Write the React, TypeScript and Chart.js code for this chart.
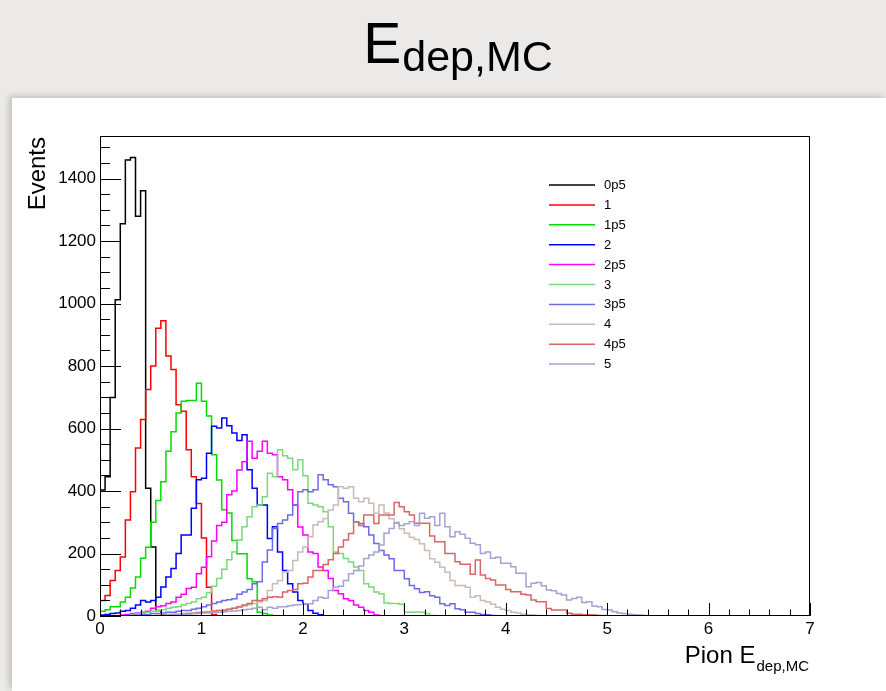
import React, { useEffect, useRef } from 'react';
import { Chart, registerables } from 'chart.js';

Chart.register(...registerables);

// ---- data (events per 0.05 bin, starting at E = 0) ----
const BIN_WIDTH = 0.05;
const N_BINS = 140;
const X_MIN = 0;
const X_MAX = 7;
const Y_MAX = 1536;
const xTickLabels = [0, 1, 2, 3, 4, 5, 6, 7];
const yTickStep = 200;

const seriesNames = ['0p5', '1', '1p5', '2', '2p5', '3', '3p5', '4', '4p5', '5'];
const seriesColors = ['#000000', '#ff0000', '#00dd00', '#0000ff', '#ff00ff', '#7ad97a', '#6b6bea', '#c9bcb4', '#d96666', '#a3a3d3'];

const h0p5 = [403, 446, 699, 1012, 1255, 1459, 1467, 1279, 1361, 409, 221, 18, 3, 1];
const h1 = [50, 66, 114, 146, 189, 307, 398, 538, 629, 725, 800, 921, 945, 832, 789, 676, 655, 532, 446, 360, 250, 92, 5];
const h1p5 = [15, 20, 30, 30, 45, 60, 90, 125, 185, 220, 300, 370, 430, 527, 590, 650, 687, 690, 690, 745, 687, 640, 516, 435, 340, 330, 242, 199, 199, 119, 110, 12, 8, 3];
const h2 = [3, 5, 8, 10, 15, 18, 25, 35, 50, 45, 50, 60, 93, 125, 152, 200, 259, 259, 345, 436, 441, 521, 607, 602, 634, 609, 586, 562, 580, 468, 409, 355, 355, 248, 286, 205, 146, 103, 77, 50, 39, 18, 9, 4];
const h2p5 = [0, 0, 0, 0, 3, 5, 8, 10, 12, 15, 25, 30, 33, 40, 45, 60, 70, 88, 92, 135, 156, 190, 240, 290, 300, 388, 400, 467, 494, 559, 505, 527, 559, 521, 516, 446, 436, 404, 355, 285, 259, 205, 200, 157, 146, 120, 82, 71, 55, 50, 35, 28, 18, 12, 3];
const h3 = [0, 0, 0, 0, 0, 0, 5, 8, 10, 12, 15, 18, 20, 25, 28, 30, 35, 40, 45, 55, 60, 75, 95, 120, 150, 180, 205, 243, 286, 318, 350, 355, 382, 457, 446, 532, 513, 505, 468, 500, 449, 361, 355, 350, 334, 286, 205, 200, 184, 173, 157, 146, 103, 93, 77, 71, 42, 40, 40, 38, 12, 12, 13, 12, 8, 2];
const h3p5 = [0, 0, 0, 0, 0, 0, 2, 3, 5, 5, 8, 8, 10, 12, 12, 15, 18, 18, 22, 25, 30, 35, 40, 45, 50, 52, 55, 70, 77, 85, 103, 110, 173, 211, 280, 296, 307, 323, 355, 398, 404, 398, 404, 452, 436, 420, 414, 377, 366, 329, 302, 296, 286, 259, 232, 210, 195, 183, 146, 146, 119, 98, 87, 75, 78, 65, 60, 39, 34, 39, 23, 20, 12, 12, 8, 5, 4, 2];
const h4 = [0, 0, 0, 0, 0, 0, 0, 0, 0, 0, 2, 3, 3, 5, 5, 6, 8, 8, 10, 12, 12, 14, 16, 18, 20, 22, 25, 28, 32, 36, 40, 45, 50, 82, 103, 114, 141, 146, 178, 205, 221, 254, 291, 302, 312, 339, 355, 414, 409, 414, 377, 366, 377, 361, 329, 355, 330, 311, 300, 279, 265, 252, 245, 231, 210, 183, 172, 156, 140, 114, 98, 98, 92, 60, 65, 50, 45, 38, 28, 22, 18, 12, 10, 6, 4, 3, 2];
const h4p5 = [0, 0, 0, 0, 0, 0, 0, 0, 0, 0, 0, 0, 3, 3, 5, 5, 6, 8, 8, 10, 12, 12, 15, 18, 18, 22, 25, 30, 35, 40, 50, 50, 55, 60, 62, 60, 77, 82, 85, 103, 105, 125, 146, 146, 165, 180, 200, 221, 243, 264, 302, 290, 323, 323, 296, 323, 323, 323, 363, 350, 334, 323, 297, 297, 297, 256, 238, 238, 200, 200, 174, 166, 166, 134, 179, 131, 120, 115, 99, 99, 85, 78, 78, 70, 67, 51, 46, 46, 24, 19, 19, 19, 9, 6, 6, 4, 4, 3, 2, 2, 1];
const h5 = [0, 0, 0, 0, 0, 0, 0, 0, 0, 0, 0, 0, 2, 3, 3, 5, 5, 6, 8, 8, 10, 10, 12, 12, 14, 15, 16, 18, 20, 22, 25, 28, 20, 28, 25, 30, 30, 33, 35, 37, 39, 39, 50, 60, 57, 82, 93, 95, 114, 135, 146, 160, 184, 195, 205, 227, 265, 280, 297, 290, 295, 302, 290, 329, 313, 318, 290, 329, 286, 254, 270, 262, 249, 233, 228, 200, 205, 185, 188, 169, 169, 158, 137, 137, 94, 105, 107, 97, 83, 81, 72, 67, 51, 56, 60, 43, 46, 32, 30, 21, 19, 14, 10, 8, 6, 4, 3, 2];

const seriesValues = [h0p5, h1, h1p5, h2, h2p5, h3, h3p5, h4, h4p5, h5];

const FONT = '"Liberation Sans", Arial, Helvetica, sans-serif';

function toSteps(values: number[]) {
  const pts: { x: number; y: number }[] = [];
  for (let k = 0; k < N_BINS; k++) {
    pts.push({ x: Math.round(k * BIN_WIDTH * 100) / 100, y: values[k] ?? 0 });
  }
  pts.push({ x: X_MAX, y: 0 });
  return pts;
}

const rootDecor = {
  id: 'rootDecor',
  afterDraw(chart: any) {
    const { ctx, chartArea: a, scales } = chart;
    const xs = scales.x;
    const ys = scales.y;
    ctx.save();
    ctx.strokeStyle = '#000';
    ctx.lineWidth = 1;
    // frame
    ctx.strokeRect(Math.round(a.left) + 0.5, Math.round(a.top) + 0.5, Math.round(a.right - a.left) - 1, Math.round(a.bottom - a.top) - 1);
    // y ticks (inside)
    ctx.beginPath();
    for (let v = 0; v <= ys.max; v += 50) {
      const py = Math.round(ys.getPixelForValue(v)) + 0.5;
      const len = v % yTickStep === 0 ? 21 : 10;
      ctx.moveTo(a.left, py);
      ctx.lineTo(a.left + len, py);
    }
    // x ticks (inside)
    for (let i = 0; i <= 35; i++) {
      const px = Math.round(xs.getPixelForValue(i * 0.2)) + 0.5;
      const len = i % 5 === 0 ? 13 : 6.5;
      ctx.moveTo(px, a.bottom);
      ctx.lineTo(px, a.bottom - len);
    }
    ctx.stroke();

    // legend
    ctx.font = `13px ${FONT}`;
    ctx.textAlign = 'left';
    ctx.textBaseline = 'middle';
    seriesNames.forEach((n, i) => {
      const y = 185 + i * 19.9;
      ctx.strokeStyle = seriesColors[i];
      ctx.lineWidth = 1.5;
      ctx.beginPath();
      ctx.moveTo(549, y);
      ctx.lineTo(595, y);
      ctx.stroke();
      ctx.fillStyle = '#000';
      ctx.fillText(n, 604, y + 0.5);
    });

    // main title
    ctx.fillStyle = '#000';
    ctx.textBaseline = 'alphabetic';
    ctx.textAlign = 'left';
    ctx.font = `57px ${FONT}`;
    const wE = ctx.measureText('E').width;
    ctx.font = `43px ${FONT}`;
    const wS = ctx.measureText('dep,MC').width;
    const x0 = 458 - (wE + wS + 1) / 2;
    ctx.font = `57px ${FONT}`;
    ctx.fillText('E', x0, 63);
    ctx.font = `43px ${FONT}`;
    ctx.fillText('dep,MC', x0 + wE + 1, 71);

    // x axis title
    ctx.textAlign = 'right';
    ctx.font = `15px ${FONT}`;
    const wsub = ctx.measureText('dep,MC').width;
    ctx.fillText('dep,MC', 809, 671);
    ctx.font = `24px ${FONT}`;
    ctx.fillText('Pion E', 809 - wsub - 1, 663);

    // y axis title
    ctx.save();
    ctx.translate(45, 137);
    ctx.rotate(-Math.PI / 2);
    ctx.textAlign = 'right';
    ctx.font = `24px ${FONT}`;
    ctx.fillText('Events', 0, 0);
    ctx.restore();

    ctx.restore();
  },
};

export default function App() {
  const ref = useRef<HTMLCanvasElement | null>(null);
  useEffect(() => {
    if (!ref.current) return;
    const chart = new Chart(ref.current, {
      type: 'line',
      data: {
        datasets: seriesNames.map((name, i) => ({
          label: name,
          data: toSteps(seriesValues[i]),
          borderColor: seriesColors[i],
          backgroundColor: seriesColors[i],
          borderWidth: 1.5,
          pointRadius: 0,
          stepped: true,
          fill: false,
          order: seriesNames.length - 1 - i,
        })),
      },
      options: {
        animation: false,
        responsive: false,
        devicePixelRatio: 1,
        layout: { padding: { left: 0, top: 136, right: 76, bottom: 0 } },
        plugins: { legend: { display: false }, tooltip: { enabled: false }, title: { display: false } },
        scales: {
          x: {
            type: 'linear',
            min: X_MIN,
            max: X_MAX,
            afterFit: (s: any) => { s.height = 75; },
            grid: { display: false, drawTicks: false },
            border: { display: false },
            afterBuildTicks: (s: any) => { s.ticks = xTickLabels.map((v) => ({ value: v })); },
            ticks: { padding: 3, color: '#000', font: { family: FONT, size: 17 }, maxRotation: 0, autoSkip: false, callback: (v: any) => String(v) },
          },
          y: {
            type: 'linear',
            min: 0,
            max: Y_MAX,
            afterFit: (s: any) => { s.width = 100; },
            grid: { display: false, drawTicks: false },
            border: { display: false },
            ticks: { stepSize: yTickStep, includeBounds: false, padding: 4, color: '#000', font: { family: FONT, size: 17 }, callback: (v: any) => String(v) },
          },
        },
      },
      plugins: [rootDecor],
    } as any);
    return () => chart.destroy();
  }, []);

  return (
    <div style={{ position: 'absolute', left: 0, top: 0, width: 886, height: 691, overflow: 'hidden', background: '#ebeae8' }}>
      <div style={{ position: 'absolute', left: 12, top: 98, width: 874, height: 593, background: '#ffffff', boxShadow: '-3px -2px 6px rgba(0,0,0,0.18)' }} />
      <canvas ref={ref} width={886} height={691} style={{ position: 'absolute', left: 0, top: 0, width: 886, height: 691 }} />
    </div>
  );
}
